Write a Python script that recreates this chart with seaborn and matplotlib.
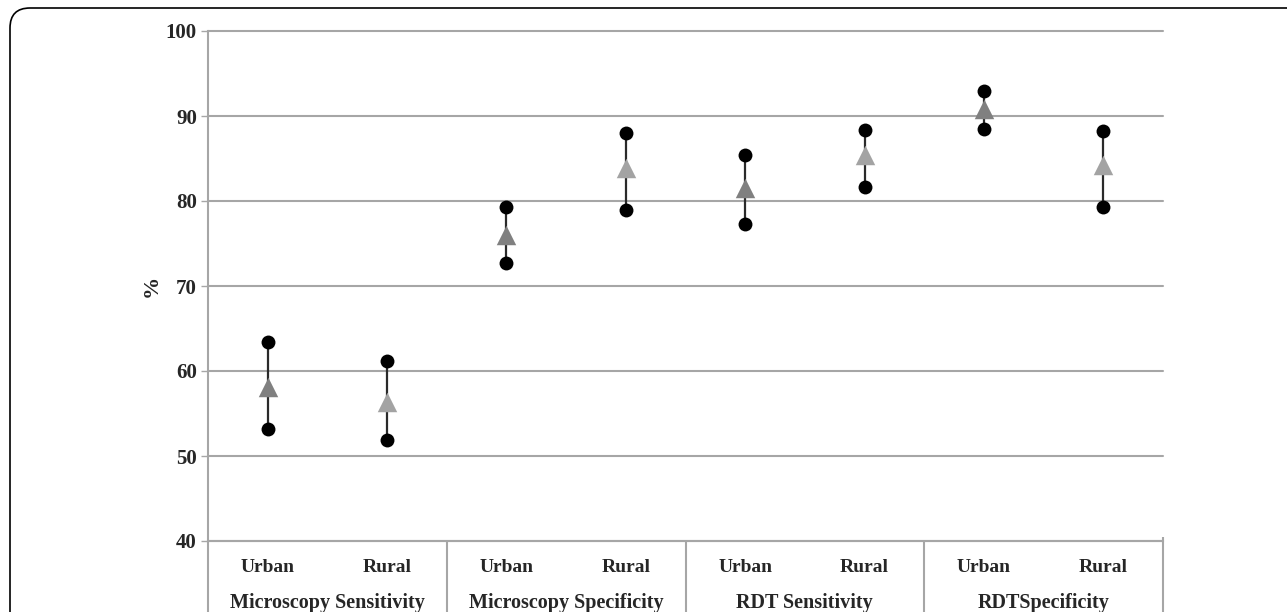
import matplotlib
matplotlib.use("Agg")
import matplotlib.pyplot as plt
import seaborn as sns
import pandas as pd
from matplotlib.patches import FancyBboxPatch
import matplotlib.transforms as mtransforms

# ---- data ----
groups = ["Microscopy Sensitivity", "Microscopy Specificity", "RDT Sensitivity", "RDTSpecificity"]
settings = ["Urban", "Rural"]
estimate = [58.1, 56.4, 76.0, 83.9, 81.5, 85.4, 90.8, 84.2]
lower = [53.2, 51.9, 72.7, 78.9, 77.3, 81.7, 88.5, 79.3]
upper = [63.4, 61.2, 79.3, 88.0, 85.4, 88.4, 93.0, 88.2]
y_ticks = [40, 50, 60, 70, 80, 90, 100]

keys = [f"{g}|{s}" for g in groups for s in settings]
set_of_key = [s for g in groups for s in settings]

df_est = pd.DataFrame({"key": keys, "setting": set_of_key, "value": estimate})
df_ci = pd.DataFrame({"key": keys * 2, "value": lower + upper})

sns.set_theme(style="white")
plt.rcParams["font.family"] = ["Liberation Serif", "DejaVu Serif"]
plt.rcParams["font.weight"] = "bold"

GRAY = "#a6a6a6"

fig = plt.figure(figsize=(12.87, 6.12), dpi=100)
ax = fig.add_axes([208 / 1287, 1 - 541 / 612, (1163 - 208) / 1287, 510 / 612])

# error lines
pos = {k: i for i, k in enumerate(keys)}
ax.vlines([pos[k] for k in keys], lower, upper, color="#2a2a2a", lw=1.6, zorder=3)

sns.stripplot(data=df_ci, x="key", y="value", order=keys, jitter=False,
              color="black", size=10, linewidth=0, ax=ax, zorder=4)
sns.stripplot(data=df_est, x="key", y="value", order=keys, hue="setting",
              hue_order=settings, palette={"Urban": "#808080", "Rural": "#a3a3a3"},
              jitter=False, marker="^", size=14, linewidth=0, legend=False,
              ax=ax, zorder=5)

ax.set_xlim(-0.5, 7.5)
ax.set_ylim(40, 100)
ax.set_yticks(y_ticks)
ax.set_yticklabels([str(t) for t in y_ticks], fontsize=15, fontweight="bold")
ax.yaxis.grid(True, color=GRAY, lw=1.5)
for gl in ax.get_ygridlines():
    gl.set_clip_on(False)
ax.set_axisbelow(True)
for s in ["top", "right"]:
    ax.spines[s].set_visible(False)
for s in ["left", "bottom"]:
    ax.spines[s].set_color(GRAY)
    ax.spines[s].set_linewidth(1.5)

ax.set_xticks(range(len(keys)))
ax.set_xticklabels(set_of_key, fontsize=14, fontweight="bold")
ax.tick_params(axis="x", direction="in", length=4, width=1, color=GRAY, pad=13)
ax.tick_params(axis="y", direction="out", length=5, width=1, color=GRAY, pad=3, left=True)
ax.set_xlabel("")
ax.set_ylabel("%", fontsize=16, fontweight="bold")
ax.yaxis.set_label_coords((162 - 208) / 955, 0.5)

trans = mtransforms.blended_transform_factory(ax.transData, ax.transAxes)
for gi, g in enumerate(groups):
    ax.text(gi * 2 + 0.5, -0.122, g, transform=trans, ha="center", va="center",
            fontsize=14.5, fontweight="bold", clip_on=False)
for xs in [-0.5, 1.5, 3.5, 5.5, 7.5]:
    top = 0.008 if xs == 7.5 else 0.0
    ax.plot([xs, xs], [top, -0.2], transform=trans, color=GRAY, lw=1.5,
            clip_on=False, solid_capstyle="butt")

# outer rounded frame
frame = FancyBboxPatch((0.10, -1.0), 14.0, 7.04, boxstyle="round,pad=0,rounding_size=0.2",
                       transform=fig.dpi_scale_trans, fill=False, edgecolor="black",
                       lw=1.2, clip_on=False)
fig.patches.append(frame)

fig.savefig("out.png", dpi=100)
